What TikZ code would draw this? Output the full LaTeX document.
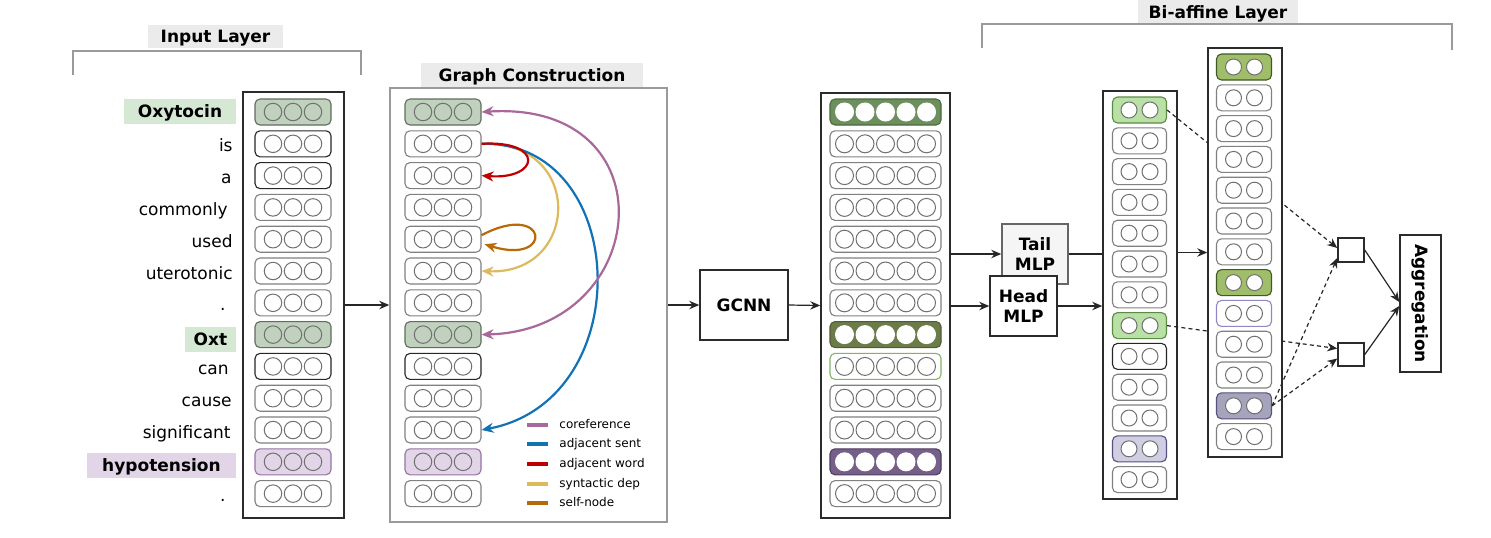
\documentclass[tikz,border=0pt]{standalone}
\usepackage{fontspec}
\usepackage{graphicx}
\setmainfont{DejaVu Sans}
\usetikzlibrary{arrows.meta,calc}

\definecolor{titlebg}{HTML}{EBEBEB}
\definecolor{bracketgray}{HTML}{9A9A9A}
\definecolor{boxline}{HTML}{2B2B2B}
\definecolor{gboxline}{HTML}{9A9A9A}
\definecolor{cellline}{HTML}{808080}
\definecolor{dotline}{HTML}{707070}
\definecolor{hlgreen}{HTML}{D5E8D4}
\definecolor{hlpurple}{HTML}{E1D5E7}
\definecolor{sage}{HTML}{C0D2BD}
\definecolor{sageline}{HTML}{5F6E5C}
\definecolor{lilac}{HTML}{E1D5E7}
\definecolor{lilacline}{HTML}{9673A6}
\definecolor{dkgreen}{HTML}{6D8F5E}
\definecolor{dkgreenline}{HTML}{4A6B3C}
\definecolor{olivetwo}{HTML}{6B7B49}
\definecolor{olivetwoline}{HTML}{4F5C33}
\definecolor{dkpurple}{HTML}{76608A}
\definecolor{dkpurpleline}{HTML}{4E3D60}
\definecolor{greenline}{HTML}{82B366}
\definecolor{ltgreen}{HTML}{B9E0A5}
\definecolor{ltgreenline}{HTML}{5E8A48}
\definecolor{lavender}{HTML}{D0CEE2}
\definecolor{lavline}{HTML}{56517E}
\definecolor{ogreen}{HTML}{A0BE69}
\definecolor{ogreenline}{HTML}{3F5A26}
\definecolor{lavborder}{HTML}{8E88C4}
\definecolor{graypurple}{HTML}{A6A4BC}
\definecolor{tailfill}{HTML}{F5F5F5}
\definecolor{tailline}{HTML}{666666}
\definecolor{ccoref}{HTML}{A8689A}
\definecolor{csent}{HTML}{1272B6}
\definecolor{cword}{HTML}{C00000}
\definecolor{csyn}{HTML}{DDBA5E}
\definecolor{cself}{HTML}{B86A0A}

\newcommand\cellrow[8]{%
  \node[cellbox,#6] (#1) at (#2,#3) {};
  \foreach \j in {1,...,#4}{%
    \node[dotc,#7,#8] (#1-\j) at ({#2+(\j-(#4+1)/2)*#5},#3) {};}%
}

\begin{document}
\begin{tikzpicture}[x=0.5pt,y=-0.5pt,
  every node/.style={inner sep=0pt},
  word/.style={font=\fontsize{8.5}{10}\selectfont},
  btxt/.style={font=\bfseries\fontsize{8.5}{10}\selectfont},
  hl/.style={font=\bfseries\fontsize{8.5}{10}\selectfont, minimum height=12.5pt, text height=6.2pt, text depth=0pt},
  ttl/.style={fill=titlebg, font=\bfseries\fontsize{8.5}{10}\selectfont, text height=6.2pt, text depth=0pt},
  legt/.style={font=\fontsize{6}{7}\selectfont, text height=3.3pt, text depth=0pt},
  brk/.style={draw=bracketgray, line width=0.75pt},
  bigbox/.style={draw=boxline, line width=0.75pt, fill=white},
  cellbox/.style={draw=cellline, line width=0.55pt, rounded corners=2.5pt, minimum height=13pt, fill=white},
  dotc/.style={circle, draw=dotline, line width=0.5pt},
  rpl/.style={}, rbk/.style={draw=black!85},
  rsg/.style={fill=sage, draw=sageline}, rpu/.style={fill=lilac, draw=lilacline},
  rdg/.style={fill=dkgreen, draw=dkgreenline}, rol/.style={fill=olivetwo, draw=olivetwoline},
  rdp/.style={fill=dkpurple, draw=dkpurpleline}, rgb/.style={draw=greenline},
  rlg/.style={fill=ltgreen, draw=ltgreenline}, rlv/.style={fill=lavender, draw=lavline},
  rog/.style={fill=ogreen, draw=ogreenline}, rlb/.style={draw=lavborder},
  rgp/.style={fill=graypurple, draw=lavline},
  cpl/.style={}, cwc/.style={fill=white}, cww/.style={fill=white, draw=white},
  conn/.style={draw=black!85, line width=0.6pt, -{Stealth[length=5pt,width=4.2pt]}},
  plainln/.style={draw=black!85, line width=0.6pt},
  dconn/.style={draw=black!85, line width=0.6pt, dash pattern=on 2pt off 1.6pt, -{Stealth[length=5pt,width=4.2pt]}},
  edgearc/.style={line width=1.1pt, -{Stealth[length=6pt,width=5pt]}},
]
\useasboundingbox (0,0) rectangle (1491,537);
\fill[white] (0,0) rectangle (1491,537);

% ---------- titles and brackets
\node[ttl, minimum width=67.5pt, minimum height=11.5pt] (tin) at (215.5,36.5) {Input Layer};
\draw[brk] (73,75) -- (73,51) -- (361,51) -- (361,75);
\node[ttl, minimum width=111pt, minimum height=12pt] (tgc) at (532,75) {Graph Construction};
\node[ttl, minimum width=80pt, minimum height=12pt] (tbi) at (1218,12) {Bi-affine Layer};
\draw[brk] (982,48) -- (982,24) -- (1452,24) -- (1452,50);

% ---------- input layer
\node[bigbox, minimum width=50.5pt, minimum height=213pt] (inbox) at (293.5,305) {};
\foreach \k/\rs in {0/rsg,1/rbk,2/rbk,3/rpl,4/rpl,5/rpl,6/rpl,7/rsg,8/rbk,9/rpl,10/rpl,11/rpu,12/rpl}{
  \pgfmathsetmacro\yy{112+31.8*\k}
  \cellrow{ia\k}{293}{\yy}{3}{20}{minimum width=38pt,\rs}{minimum size=8.75pt}{cpl}
}
\foreach \k/\w/\xx in {1/is/233,2/a/232,3/commonly/228,4/used/233,5/uterotonic/233,6/./226,8/can/229,9/cause/232,10/significant/231,12/./226}{
  \pgfmathsetmacro\yy{112+31.8*\k+8}
  \node[word, anchor=base east] (w\k) at (\xx,\yy) {\w};
}
\node[hl, fill=hlgreen, minimum width=56pt] (w0) at (180,111.5) {Oxytocin};
\node[hl, fill=hlgreen, minimum width=25.5pt] (w7) at (210.5,339.5) {Oxt};
\node[hl, fill=hlpurple, minimum width=74.5pt] (w11) at (161.5,465) {hypotension};

% ---------- graph construction
\node[bigbox, draw=gboxline, minimum width=138.5pt, minimum height=217pt] (gbox) at (528.5,305) {};
\foreach \k/\rs in {0/rsg,1/rpl,2/rpl,3/rpl,4/rpl,5/rpl,6/rpl,7/rsg,8/rbk,9/rpl,10/rpl,11/rpu,12/rpl}{
  \pgfmathsetmacro\yy{112+31.8*\k}
  \cellrow{g\k}{443}{\yy}{3}{20}{minimum width=38pt,\rs}{minimum size=8.75pt}{cpl}
}
\foreach \k/\t/\c/\yy in {0/coreference/ccoref/425,1/adjacent sent/csent/444,2/adjacent word/cword/464,3/syntactic dep/csyn/484,4/self-node/cself/503}{
  \node[legt, anchor=west] (lg\k) at (559,\yy) {\t};
  \draw[\c, line width=2pt] ($(lg\k.west)+(-32,0)$) -- ($(lg\k.west)+(-11,0)$);
}
\draw[edgearc, csyn] (g1.east) .. controls (585,140) and (580,275) .. (g5.east);
\draw[edgearc, csent] (g1.east) .. controls (630,140) and (640,400) .. (g10.east);
\draw[edgearc, cword] (g1.east) .. controls (545,140) and (540,180) .. (g2.east);
\draw[edgearc, ccoref, {Stealth[length=6pt,width=5pt]}-{Stealth[length=6pt,width=5pt]}] (g0.east) .. controls (672,100) and (652,330) .. (g7.east);
\draw[edgearc, cself] ($(g4.east)+(0,-4)$) .. controls (548,200) and (555,266) .. ($(g4.east)+(3,5)$);

% ---------- GCNN
\node[bigbox, btxt, minimum width=44pt, minimum height=35pt] (gcnn) at (744,305) {GCNN};
\node[bigbox, minimum width=64.5pt, minimum height=212.5pt] (gout) at (885.5,305.5) {};
\foreach \k/\rs/\cs in {0/rdg/cww,1/rpl/cpl,2/rpl/cpl,3/rpl/cpl,4/rpl/cpl,5/rpl/cpl,6/rpl/cpl,7/rol/cww,8/rgb/cpl,9/rpl/cpl,10/rpl/cpl,11/rdp/cww,12/rpl/cpl}{
  \pgfmathsetmacro\yy{112+31.8*\k}
  \cellrow{o\k}{885.5}{\yy}{5}{20.5}{minimum width=55.5pt,\rs}{minimum size=9pt}{\cs}
}

% ---------- MLPs
\node[bigbox, btxt, fill=tailfill, draw=tailline, minimum width=33pt, minimum height=30pt, align=center] (tail) at (1035,254) {Tail\\MLP};
\node[bigbox, btxt, minimum width=33.5pt, minimum height=30pt, align=center] (head) at (1023.5,306) {Head\\MLP};

% ---------- bi-affine: first column
\node[bigbox, minimum width=37pt, minimum height=204pt] (c2box) at (1140,295) {};
\foreach \k/\rs/\cs in {0/rlg/cwc,1/rpl/cpl,2/rpl/cpl,3/rpl/cpl,4/rpl/cpl,5/rpl/cpl,6/rpl/cpl,7/rlg/cwc,8/rbk/cpl,9/rpl/cpl,10/rpl/cpl,11/rlv/cwc,12/rpl/cpl}{
  \pgfmathsetmacro\yy{110+30.8*\k}
  \cellrow{ca\k}{1139.5}{\yy}{2}{21}{minimum width=27pt,\rs}{minimum size=8pt}{\cs}
}

% ---------- scorer and aggregation
\node[bigbox, minimum width=13pt, minimum height=12pt] (sq1) at (1351,250) {};
\node[bigbox, minimum width=13pt, minimum height=11.5pt] (sq2) at (1351,354.5) {};
\node[bigbox, btxt, minimum width=20.5pt, minimum height=68.5pt] (agg) at (1420.5,303.5) {\rotatebox{-90}{Aggregation}};

% dashed lines that pass behind the second column
\draw[dconn] (ca0.east) -- ($(sq1.west)+(0,-2)$);
\draw[dconn] (ca7.east) -- ($(sq2.west)+(0,-6)$);

% ---------- bi-affine: second column
\node[bigbox, minimum width=37pt, minimum height=204.5pt] (c3box) at (1245,252.5) {};
\foreach \k/\rs/\cs in {0/rog/cwc,1/rpl/cpl,2/rpl/cpl,3/rpl/cpl,4/rpl/cpl,5/rpl/cpl,6/rpl/cpl,7/rog/cwc,8/rlb/cpl,9/rpl/cpl,10/rpl/cpl,11/rgp/cwc,12/rpl/cpl}{
  \pgfmathsetmacro\yy{67+30.8*\k}
  \cellrow{cb\k}{1244}{\yy}{2}{21}{minimum width=27.5pt,\rs}{minimum size=8pt}{\cs}
}

% ---------- connectors
\draw[conn] (inbox.east) -- (gbox.west);
\draw[conn] (gbox.east) -- (gcnn.west);
\draw[conn] (gcnn.east) -- (gout.west);
\draw[conn] (gout.east |- tail.west) -- (tail.west);
\draw[conn] (gout.east |- head.west) -- (head.west);
\draw[plainln] (tail.east) -- (tail.east -| c2box.west);
\draw[conn] (head.east) -- (head.east -| c2box.west);
\draw[conn] (c2box.east |- c3box.west) -- (c3box.west);
\draw[dconn] (cb11.east) -- ($(sq1.west)+(0,8)$);
\draw[dconn] (cb11.east) -- ($(sq2.west)+(0,4)$);
\draw[conn] (sq1.east) -- ($(agg.west)+(0,-1.5)$);
\draw[conn] (sq2.east) -- ($(agg.west)+(0,2.5)$);
\end{tikzpicture}
\end{document}
